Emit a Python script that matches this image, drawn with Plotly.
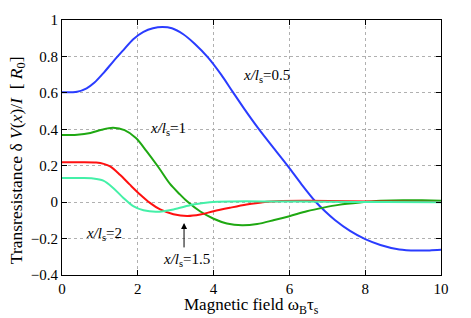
import plotly.graph_objects as go

# data
x_05 = [0, 0.4, 0.65, 0.85, 1.1, 1.35, 1.62, 1.88, 2.15, 2.4, 2.65, 2.9, 3.2, 3.5, 3.85, 4.2, 4.5, 4.8, 5.18, 5.58, 5.97, 6.32, 6.68, 6.94, 7.2, 7.6, 8.0, 8.4, 8.9, 9.36, 9.7, 10]
y_05 = [0.603, 0.606, 0.625, 0.655, 0.71, 0.772, 0.835, 0.895, 0.935, 0.955, 0.962, 0.955, 0.922, 0.87, 0.795, 0.70, 0.607, 0.515, 0.405, 0.298, 0.195, 0.098, 0.005, -0.05, -0.098, -0.158, -0.203, -0.235, -0.26, -0.266, -0.265, -0.262]

x_10 = [0, 0.4, 0.75, 1.05, 1.35, 1.65, 1.95, 2.23, 2.55, 2.85, 3.1, 3.3, 3.64, 4.0, 4.35, 4.75, 5.15, 5.6, 6.0, 6.46, 6.9, 7.3, 7.86, 8.4, 9.0, 9.5, 10]
y_10 = [0.368, 0.37, 0.38, 0.398, 0.408, 0.395, 0.352, 0.28, 0.19, 0.10, 0.045, 0.005, -0.05, -0.091, -0.117, -0.127, -0.12, -0.098, -0.077, -0.05, -0.03, -0.015, -0.002, 0.007, 0.011, 0.01, 0.008]

x_15 = [0, 0.5, 0.9, 1.1, 1.27, 1.53, 1.79, 2.06, 2.32, 2.59, 2.94, 3.3, 3.65, 4.0, 4.43, 4.87, 5.3, 5.8, 6.5, 7.5, 8.5, 10]
y_15 = [0.219, 0.219, 0.217, 0.21, 0.196, 0.15, 0.096, 0.042, -0.004, -0.04, -0.066, -0.076, -0.068, -0.05, -0.031, -0.013, 0.0, 0.006, 0.007, 0.005, 0.003, 0.001]

x_20 = [0, 0.5, 0.82, 1.09, 1.35, 1.62, 1.88, 2.15, 2.5, 2.94, 3.46, 3.9, 4.5, 5.5, 7, 8.5, 10]
y_20 = [0.132, 0.132, 0.13, 0.118, 0.078, 0.023, -0.022, -0.045, -0.053, -0.04, -0.013, 0.0, 0.004, 0.004, 0.002, 0.001, 0.0]

x_ticks = [0, 2, 4, 6, 8, 10]
x_ticklabels = ["0", "2", "4", "6", "8", "10"]
y_ticks = [-0.4, -0.2, 0, 0.2, 0.4, 0.6, 0.8, 1]
y_ticklabels = ["\u22120.4", "\u22120.2", "0", "0.2", "0.4", "0.6", "0.8", "1"]

FONT = "Liberation Serif"

fig = go.Figure()
series = [
    (x_05, y_05, "#2a3cff"),
    (x_10, y_10, "#1fa812"),
    (x_15, y_15, "#ff1010"),
    (x_20, y_20, "#44f0a8"),
]
for xs, ys, c in series:
    fig.add_trace(go.Scatter(x=xs, y=ys, mode="lines",
                             line=dict(color=c, width=2, shape="spline", smoothing=0.9),
                             showlegend=False, hoverinfo="skip"))

axis_common = dict(
    showline=True, linecolor="black", linewidth=1, mirror="ticks",
    ticks="inside", ticklen=5, tickcolor="black",
    showgrid=True, gridcolor="#b0b0b0", gridwidth=1, griddash="dot",
    zeroline=False,
    tickfont=dict(family=FONT, size=15, color="black"),
)

fig.update_xaxes(range=[0, 10], tickvals=x_ticks, ticktext=x_ticklabels, **axis_common)
fig.update_yaxes(range=[-0.4, 1], tickvals=y_ticks, ticktext=y_ticklabels, **axis_common)

ann_font = dict(family=FONT, size=15, color="black")
fig.add_annotation(x=4.72, y=0.69, text="<i>x/l</i><sub>s</sub>=0.5", showarrow=False,
                   xanchor="left", yanchor="middle", font=ann_font)
fig.add_annotation(x=2.28, y=0.40, text="<i>x/l</i><sub>s</sub>=1", showarrow=False,
                   xanchor="left", yanchor="middle", font=ann_font)
fig.add_annotation(x=0.58, y=-0.175, text="<i>x/l</i><sub>s</sub>=2", showarrow=False,
                   xanchor="left", yanchor="middle", font=ann_font)
fig.add_annotation(x=2.62, y=-0.32, text="<i>x/l</i><sub>s</sub>=1.5", showarrow=False,
                   xanchor="left", yanchor="middle", font=ann_font)
# arrow
fig.add_annotation(x=3.22, y=-0.114, text="", showarrow=True, arrowhead=2,
                   arrowsize=1.2, arrowwidth=1, arrowcolor="black",
                   ax=0, ay=26, axref="pixel", ayref="pixel")

# axis titles
fig.add_annotation(xref="paper", yref="paper", x=0.5, y=-0.072,
                   text="Magnetic field \u03c9<sub>B</sub>\u03c4<sub>s</sub>",
                   showarrow=False, xanchor="center", yanchor="top",
                   font=dict(family=FONT, size=17, color="black"))
fig.add_annotation(xref="paper", yref="paper", x=-0.119, y=0.45,
                   text="Transresistance \u03b4 <i>V</i>(<i>x</i>)/<i>I</i>  [ <i>R</i><sub>0</sub>]",
                   textangle=-90, showarrow=False, xanchor="center", yanchor="middle",
                   font=dict(family=FONT, size=17.5, color="black"))

fig.update_layout(
    width=471, height=318,
    margin=dict(l=62, r=30, t=17, b=43),
    paper_bgcolor="white", plot_bgcolor="white",
)

fig.write_html("out.html", config={"displayModeBar": False},
               post_script="document.body.style.margin='0';")
